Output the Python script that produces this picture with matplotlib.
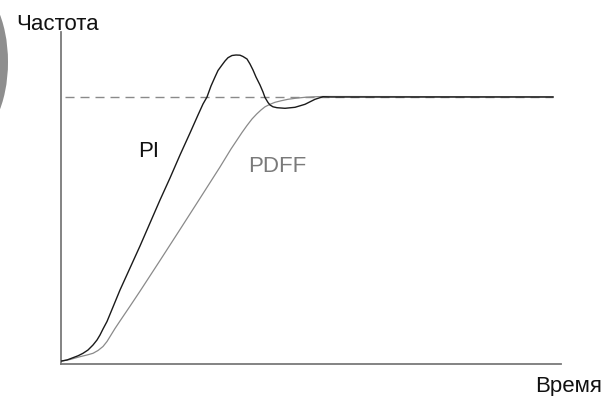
import matplotlib
matplotlib.use("Agg")
import matplotlib.pyplot as plt
from matplotlib.patches import Ellipse

plt.rcParams['lines.scale_dashes'] = False

# Data: time (arbitrary units) and frequency (arbitrary units, setpoint = 267)
pi_t = [0.7, 6, 12, 17, 22, 27, 32, 36, 39, 42, 46, 52, 59, 69, 79, 89, 99, 109,
        119, 129, 137, 142, 146, 150, 154, 157, 161, 164, 167, 171, 175, 179,
        182, 186, 189, 192, 195, 199, 202, 204, 207, 209, 212, 216, 224, 234,
        244, 254, 262, 270, 492]
pi_f = [3, 4, 6.3, 8.2, 10.7, 14, 19, 24, 29, 35, 42.5, 57, 74, 96, 118, 141,
        164, 186, 209, 231, 249, 260, 267, 278, 287, 293.5, 299, 303, 306.3,
        308.5, 309, 308.8, 307.5, 305, 300, 294, 287, 279, 272, 266.5, 261.5,
        259, 257.2, 256.3, 255.7, 256.7, 259.7, 264.7, 267.3, 267, 267]

pdff_t = [0.7, 9, 19, 26, 32, 37, 42, 46, 50, 54, 59, 69, 79, 99, 119, 136, 159,
          170, 176, 181, 186, 191, 195.7, 200, 204, 209, 214, 220, 227, 235,
          244, 253, 262, 492]
pdff_f = [3, 4.5, 7.3, 9, 10.7, 13.5, 17.5, 22.5, 29, 35.5, 43, 57.8, 72.8,
          103.5, 134.5, 161, 197, 215, 224, 231.5, 238.5, 245, 250, 254,
          257.2, 259.7, 261.7, 263.2, 264.7, 265.8, 266.7, 267.2, 267.5, 267.2]

setpoint_t = [4, 492]
setpoint_f = [267, 267]

y_label = "Частота"
x_label = "Время"
pi_label = "PI"
pdff_label = "PDFF"

W, H = 611, 396
fig = plt.figure(figsize=(W / 100, H / 100), dpi=100)

# decorative grey shape at left edge
fig.patches.append(Ellipse((-30 / W, 1 - 62 / H), 76 / W, 154 / H,
                           transform=fig.transFigure, facecolor='#8e8e8e',
                           edgecolor='none', zorder=0))

ax = fig.add_axes([61 / W, (H - 364) / H, 500 / W, (364 - 32) / H])
ax.set_xlim(0, 500)
ax.set_ylim(0, 332)
for s in ['top', 'right']:
    ax.spines[s].set_visible(False)
for s in ['left', 'bottom']:
    ax.spines[s].set_color('#7a7a7a')
    ax.spines[s].set_linewidth(1.3)
ax.set_xticks([])
ax.set_yticks([])
ax.patch.set_alpha(0)

ax.plot(setpoint_t, setpoint_f, color='#8a8a8a', lw=1.0, dashes=(6.5, 4.3), zorder=1)
ax.plot(pdff_t, pdff_f, color='#8a8a8a', lw=0.9, zorder=2)
ax.plot(pi_t, pi_f, color='#1a1a1a', lw=1.0, zorder=3)

font = 'Liberation Sans'
fig.text(58 / W, 1 - 30 / H, y_label, fontsize=16, family=font, color='#111111',
         ha='center', va='baseline')
fig.text(569 / W, 1 - 392 / H, x_label, fontsize=16, family=font, color='#111111',
         ha='center', va='baseline')
fig.text(149 / W, 1 - 157 / H, pi_label, fontsize=16, family=font, color='#111111',
         ha='center', va='baseline')
fig.text(277 / W, 1 - 172 / H, pdff_label, fontsize=16, family=font, color='#7a7a7a',
         ha='center', va='baseline')

fig.savefig('out.png', dpi=100)
